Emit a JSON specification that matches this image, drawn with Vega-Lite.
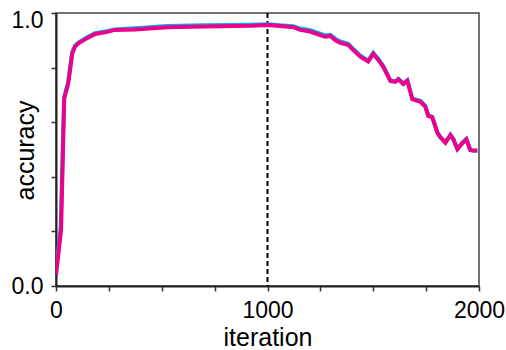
{
  "$schema": "https://vega.github.io/schema/vega-lite/v6.json",
  "width": 423,
  "height": 273,
  "autosize": {"type": "none"},
  "padding": {"left": 56, "top": 13, "right": 27, "bottom": 64},
  "background": "white",
  "config": {
    "font": "Liberation Sans",
    "view": {"stroke": "#444444", "strokeWidth": 1.5},
    "axis": {
      "domainColor": "#222222",
      "domainWidth": 2,
      "tickColor": "#333333",
      "tickWidth": 1.5,
      "tickSize": 5,
      "grid": false,
      "labelFont": "Liberation Sans",
      "labelFontSize": 23,
      "labelColor": "black",
      "titleFont": "Liberation Sans",
      "titleFontSize": 25,
      "titleFontWeight": "normal",
      "titleColor": "black"
    }
  },
  "datasets": {
    "magenta": [
      {"iteration": 0, "accuracy": 0.04},
      {"iteration": 24, "accuracy": 0.205},
      {"iteration": 39, "accuracy": 0.688},
      {"iteration": 58, "accuracy": 0.742},
      {"iteration": 77, "accuracy": 0.852},
      {"iteration": 90, "accuracy": 0.877},
      {"iteration": 106, "accuracy": 0.889},
      {"iteration": 145, "accuracy": 0.907},
      {"iteration": 185, "accuracy": 0.923},
      {"iteration": 232, "accuracy": 0.929},
      {"iteration": 279, "accuracy": 0.938},
      {"iteration": 374, "accuracy": 0.94},
      {"iteration": 525, "accuracy": 0.948},
      {"iteration": 700, "accuracy": 0.951},
      {"iteration": 918, "accuracy": 0.953},
      {"iteration": 1003, "accuracy": 0.956},
      {"iteration": 1060, "accuracy": 0.952},
      {"iteration": 1122, "accuracy": 0.948},
      {"iteration": 1155, "accuracy": 0.938},
      {"iteration": 1202, "accuracy": 0.932},
      {"iteration": 1249, "accuracy": 0.919},
      {"iteration": 1273, "accuracy": 0.913},
      {"iteration": 1297, "accuracy": 0.916},
      {"iteration": 1320, "accuracy": 0.901},
      {"iteration": 1344, "accuracy": 0.891},
      {"iteration": 1382, "accuracy": 0.883},
      {"iteration": 1406, "accuracy": 0.864},
      {"iteration": 1439, "accuracy": 0.84},
      {"iteration": 1476, "accuracy": 0.822},
      {"iteration": 1500, "accuracy": 0.85},
      {"iteration": 1524, "accuracy": 0.828},
      {"iteration": 1548, "accuracy": 0.802},
      {"iteration": 1581, "accuracy": 0.751},
      {"iteration": 1604, "accuracy": 0.748},
      {"iteration": 1619, "accuracy": 0.757},
      {"iteration": 1642, "accuracy": 0.74},
      {"iteration": 1661, "accuracy": 0.752},
      {"iteration": 1685, "accuracy": 0.684},
      {"iteration": 1723, "accuracy": 0.675},
      {"iteration": 1746, "accuracy": 0.657},
      {"iteration": 1760, "accuracy": 0.623},
      {"iteration": 1779, "accuracy": 0.618},
      {"iteration": 1803, "accuracy": 0.562},
      {"iteration": 1817, "accuracy": 0.545},
      {"iteration": 1841, "accuracy": 0.525},
      {"iteration": 1865, "accuracy": 0.553},
      {"iteration": 1879, "accuracy": 0.537},
      {"iteration": 1898, "accuracy": 0.501},
      {"iteration": 1921, "accuracy": 0.523},
      {"iteration": 1940, "accuracy": 0.537},
      {"iteration": 1959, "accuracy": 0.498},
      {"iteration": 1973, "accuracy": 0.496},
      {"iteration": 1992, "accuracy": 0.496}
    ],
    "blue": [
      {"iteration": 0, "accuracy": 0.05},
      {"iteration": 22, "accuracy": 0.215},
      {"iteration": 38, "accuracy": 0.69},
      {"iteration": 57, "accuracy": 0.745},
      {"iteration": 76, "accuracy": 0.855},
      {"iteration": 90, "accuracy": 0.88},
      {"iteration": 106, "accuracy": 0.892},
      {"iteration": 145, "accuracy": 0.91},
      {"iteration": 185, "accuracy": 0.926},
      {"iteration": 232, "accuracy": 0.932},
      {"iteration": 279, "accuracy": 0.94},
      {"iteration": 374, "accuracy": 0.944},
      {"iteration": 525, "accuracy": 0.952},
      {"iteration": 700, "accuracy": 0.955},
      {"iteration": 918, "accuracy": 0.957},
      {"iteration": 1003, "accuracy": 0.959},
      {"iteration": 1060, "accuracy": 0.955},
      {"iteration": 1122, "accuracy": 0.952},
      {"iteration": 1155, "accuracy": 0.943},
      {"iteration": 1202, "accuracy": 0.937},
      {"iteration": 1249, "accuracy": 0.924},
      {"iteration": 1273, "accuracy": 0.918},
      {"iteration": 1297, "accuracy": 0.92},
      {"iteration": 1320, "accuracy": 0.906},
      {"iteration": 1344, "accuracy": 0.896},
      {"iteration": 1382, "accuracy": 0.887},
      {"iteration": 1406, "accuracy": 0.868},
      {"iteration": 1439, "accuracy": 0.844},
      {"iteration": 1476, "accuracy": 0.826},
      {"iteration": 1500, "accuracy": 0.854},
      {"iteration": 1524, "accuracy": 0.832},
      {"iteration": 1548, "accuracy": 0.805},
      {"iteration": 1581, "accuracy": 0.753},
      {"iteration": 1604, "accuracy": 0.75},
      {"iteration": 1619, "accuracy": 0.759},
      {"iteration": 1642, "accuracy": 0.742},
      {"iteration": 1661, "accuracy": 0.754},
      {"iteration": 1685, "accuracy": 0.686},
      {"iteration": 1723, "accuracy": 0.678},
      {"iteration": 1746, "accuracy": 0.66},
      {"iteration": 1760, "accuracy": 0.625},
      {"iteration": 1779, "accuracy": 0.62},
      {"iteration": 1803, "accuracy": 0.563},
      {"iteration": 1817, "accuracy": 0.546},
      {"iteration": 1841, "accuracy": 0.526},
      {"iteration": 1865, "accuracy": 0.554},
      {"iteration": 1879, "accuracy": 0.538},
      {"iteration": 1898, "accuracy": 0.502},
      {"iteration": 1921, "accuracy": 0.524},
      {"iteration": 1940, "accuracy": 0.538},
      {"iteration": 1959, "accuracy": 0.498},
      {"iteration": 1973, "accuracy": 0.495},
      {"iteration": 1992, "accuracy": 0.495}
    ],
    "marker": [{"iteration": 1000}]
  },
  "encoding": {
    "x": {
      "field": "iteration",
      "type": "quantitative",
      "scale": {"domain": [0, 2000], "nice": false},
      "axis": {
        "title": "iteration",
        "values": [0, 250, 500, 750, 1000, 1250, 1500, 1750, 2000],
        "format": "d",
        "labelExpr": "datum.value % 1000 == 0 ? datum.label : ''",
        "labelFlush": false,
        "labelPadding": 8,
        "titleBaseline": "alphabetic",
        "titleY": 59
      }
    }
  },
  "layer": [
    {
      "data": {"name": "marker"},
      "mark": {"type": "rule", "color": "black", "strokeWidth": 2, "strokeDash": [5, 3]},
      "encoding": {}
    },
    {
      "data": {"name": "blue"},
      "mark": {"type": "line", "color": "#00aeef", "strokeWidth": 4, "clip": true},
      "encoding": {
        "y": {
          "field": "accuracy",
          "type": "quantitative",
          "scale": {"domain": [0, 1], "nice": false},
          "axis": {
            "title": "accuracy",
            "values": [0, 0.2, 0.4, 0.6, 0.8, 1],
            "format": ".1f",
            "labelExpr": "datum.value == 0 || datum.value == 1 ? datum.label : ''",
            "labelFlush": false,
            "labelPadding": 8,
            "labelOffset": {"condition": {"test": "datum.value == 1", "value": 7}, "value": 0},
            "titleAngle": -90,
            "titleBaseline": "alphabetic",
            "titleX": -23,
            "titleY": 137
          }
        }
      }
    },
    {
      "data": {"name": "magenta"},
      "mark": {"type": "line", "color": "#ec008c", "strokeWidth": 4, "clip": true},
      "encoding": {
        "y": {"field": "accuracy", "type": "quantitative"}
      }
    }
  ]
}
